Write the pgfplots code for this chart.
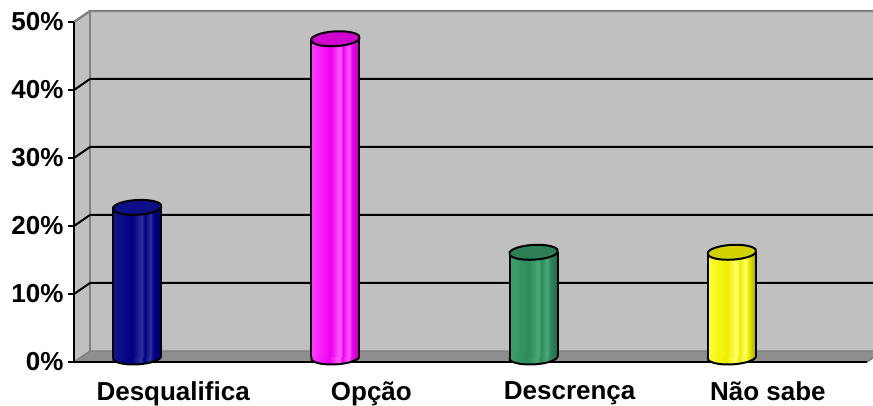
\documentclass[border=0pt]{standalone}
\usepackage{fontspec}
\setmainfont{Liberation Sans}
\usepackage{pgfplots}
\usepackage{pgfplotstable}
\pgfplotsset{compat=1.18}

\definecolor{wall}{HTML}{C0C0C0}
\definecolor{walledge}{HTML}{808080}
\definecolor{floorc}{HTML}{8E8E8E}

% cylinder colours
\definecolor{nvA}{HTML}{16168E}\definecolor{nvB}{HTML}{000080}\definecolor{nvC}{HTML}{3030A0}\definecolor{nvD}{HTML}{000068}
\definecolor{mgA}{HTML}{FF3CFF}\definecolor{mgB}{HTML}{F000F0}\definecolor{mgC}{HTML}{FF60FF}\definecolor{mgD}{HTML}{B000B0}
\definecolor{grA}{HTML}{3DA070}\definecolor{grB}{HTML}{2F8A5C}\definecolor{grC}{HTML}{48A878}\definecolor{grD}{HTML}{216846}
\definecolor{ywA}{HTML}{FFFF30}\definecolor{ywB}{HTML}{EEEE00}\definecolor{ywC}{HTML}{FFFF70}\definecolor{ywD}{HTML}{A6A600}
\definecolor{nvT}{HTML}{0E0E88}
\definecolor{mgT}{HTML}{D000D0}
\definecolor{grT}{HTML}{2E7E56}
\definecolor{ywT}{HTML}{D2D200}

\pgfdeclarehorizontalshading{shNv}{100bp}{color(0bp)=(nvA); color(25bp)=(nvA); color(45bp)=(nvB); color(55bp)=(nvC); color(58bp)=(nvB); color(64bp)=(nvC); color(67bp)=(nvB); color(75bp)=(nvD); color(100bp)=(nvD)}
\pgfdeclarehorizontalshading{shMg}{100bp}{color(0bp)=(mgA); color(25bp)=(mgA); color(45bp)=(mgB); color(55bp)=(mgC); color(58bp)=(mgB); color(64bp)=(mgC); color(67bp)=(mgB); color(75bp)=(mgD); color(100bp)=(mgD)}
\pgfdeclarehorizontalshading{shGr}{100bp}{color(0bp)=(grA); color(25bp)=(grA); color(45bp)=(grB); color(55bp)=(grC); color(58bp)=(grB); color(64bp)=(grC); color(67bp)=(grB); color(75bp)=(grD); color(100bp)=(grD)}
\pgfdeclarehorizontalshading{shYw}{100bp}{color(0bp)=(ywA); color(25bp)=(ywA); color(45bp)=(ywB); color(55bp)=(ywC); color(58bp)=(ywB); color(64bp)=(ywC); color(67bp)=(ywB); color(75bp)=(ywD); color(100bp)=(ywD)}

% top ellipse of a cylinder
\newcommand{\cylell}{\pgfpathellipse{\pgfpointorigin}{\pgfqpoint{24pt}{0pt}}{\pgfqpoint{4pt}{7.5pt}}}
% lower half of the base ellipse
\newcommand{\cylhalf}{{\pgftransformcm{24}{0}{4}{7.5}{\pgfpointorigin}%
  \pgfpathmoveto{\pgfqpoint{-1pt}{0pt}}\pgfpatharc{180}{360}{1pt}}}
\pgfdeclareplotmark{cyltop}{\cylell\pgfusepathqfillstroke}
\newcommand{\defbot}[2]{\pgfdeclareplotmark{#1}{%
  \cylhalf\pgfpathclose\pgfshadepath{#2}{0}\pgfusepath{discard}%
  \cylhalf\pgfusepath{stroke}}}
\defbot{cylbotNv}{shNv}
\defbot{cylbotMg}{shMg}
\defbot{cylbotGr}{shGr}
\defbot{cylbotYw}{shYw}

% x = category position, y = value, b = base of the cylinder
\pgfplotstableread{
x y b
0.5 22 0
}\tDesq
\pgfplotstableread{
x y b
1.5 46.8 0
}\tOpcao
\pgfplotstableread{
x y b
2.5 15.4 0
}\tDescr
\pgfplotstableread{
x y b
3.5 15.4 0
}\tNao

\newcommand{\cylinder}[4]{%
  % #1 table, #2 shading, #3 bottom mark, #4 top colour
  \addplot[ybar, bar width=48pt, bar shift=0pt, draw=none, shade, shading=#2, shading angle=0] table[x=x, y=y] {#1};
  \addplot[only marks, mark=#3, mark options={draw=black, line width=2pt}] table[x=x, y=b] {#1};
  \addplot[ycomb, xshift=-24pt, black, line width=2pt, mark=none] table[x=x, y=y] {#1};
  \addplot[ycomb, xshift=24pt, black, line width=2pt, mark=none] table[x=x, y=y] {#1};
  \addplot[only marks, mark=cyltop, mark options={fill=#4, draw=black, line width=2pt}] table[x=x, y=y] {#1};
}

\begin{document}
\begin{tikzpicture}
\useasboundingbox (0,0) rectangle (873pt,406pt);
% walls and floor
\fill[wall] (90pt,55pt) rectangle (895pt,395pt);
\fill[wall] (74pt,44pt) -- (74pt,384pt) -- (90pt,395pt) -- (90pt,55pt) -- cycle;
\fill[floorc] (74pt,44pt) -- (867pt,44pt) -- (883pt,55pt) -- (90pt,55pt) -- cycle;
\draw[walledge, line width=1.4pt] (74pt,44pt) -- (90pt,55pt) -- (895pt,55pt);
\draw[walledge, line width=2.4pt] (90pt,55pt) -- (90pt,395pt);
\draw[walledge, line width=2.4pt] (74pt,384pt) -- (90pt,395pt) -- (895pt,395pt);
\draw[walledge, line width=1.4pt] (867pt,44pt) -- (883pt,55pt);
\foreach \k in {1,2,3,4} {
  \draw[black, line width=2pt] (74pt,{44pt+68pt*\k}) -- (90pt,{55pt+68pt*\k}) -- (895pt,{55pt+68pt*\k});
}

% front axis with ticks and labels
\begin{axis}[
  at={(74pt,44pt)}, anchor=south west,
  scale only axis, width=793pt, height=340pt,
  xmin=0, xmax=4, ymin=0, ymax=50,
  axis x line*=bottom, axis y line*=left,
  axis line style={black, line width=2pt},
  every tick/.style={black, line width=2pt},
  tick align=outside,
  major tick length=6pt,
  ytick={0,10,20,30,40,50},
  yticklabel={\pgfmathprintnumber{\tick}\%},
  xtick={0.5,1.5,2.5,3.5},
  xticklabels={Desqualifica, Opção, Descrença, Não sabe},
  x tick style={draw=none},
  extra x ticks={1,2,3,4},
  extra x tick labels={},
  extra x tick style={tick style={black, line width=2pt}},
  tick label style={font=\bfseries\fontsize{26}{30}\selectfont},
  xticklabel style={yshift=-10pt},
  yticklabel style={xshift=-1pt},
  /pgf/number format/assume math mode=true,
]
\end{axis}

% cylinders (mid-depth plane)
\begin{axis}[
  at={(38pt,49pt)}, anchor=south west,
  scale only axis, width=793pt, height=340pt,
  xmin=0, xmax=4, ymin=0, ymax=50,
  hide axis, clip=false,
]
\cylinder{\tDesq}{shNv}{cylbotNv}{nvT}
\cylinder{\tOpcao}{shMg}{cylbotMg}{mgT}
\cylinder{\tDescr}{shGr}{cylbotGr}{grT}
\cylinder{\tNao}{shYw}{cylbotYw}{ywT}
\end{axis}
\end{tikzpicture}
\end{document}
